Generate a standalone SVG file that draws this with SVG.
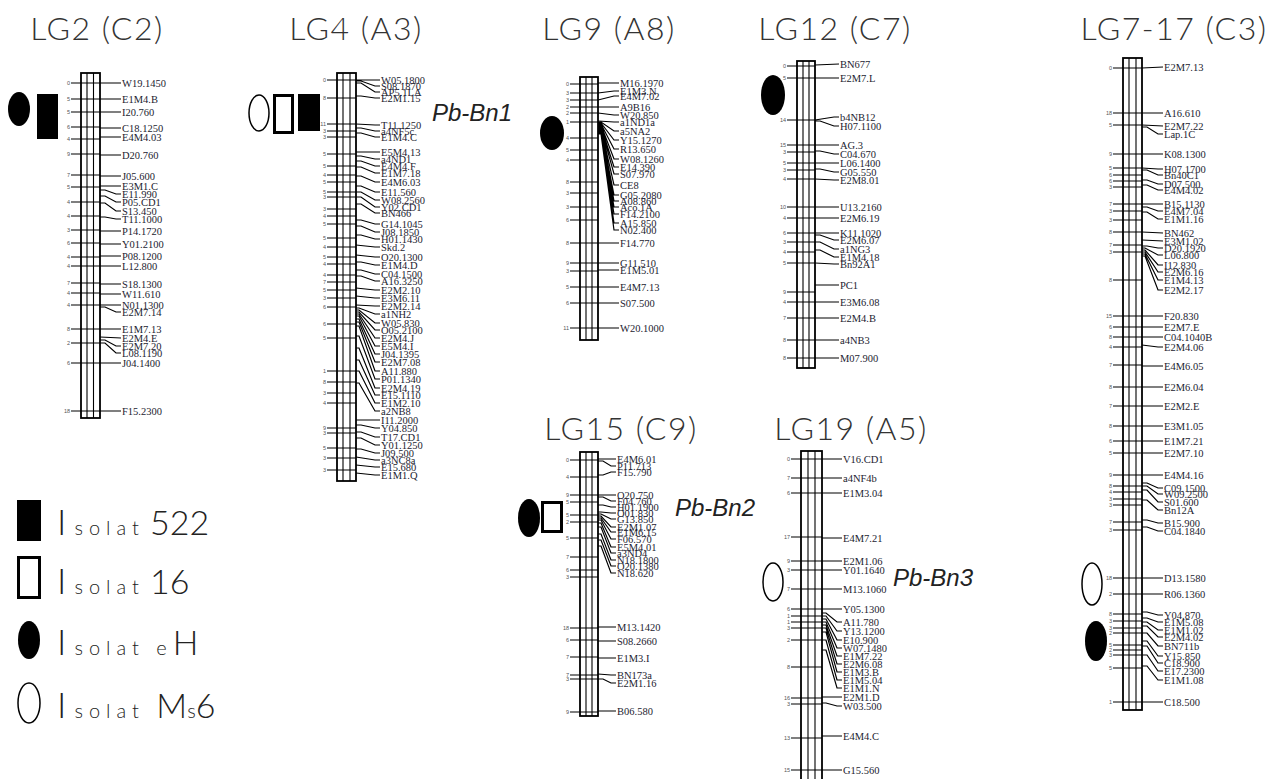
<svg xmlns="http://www.w3.org/2000/svg" width="1275" height="779" viewBox="0 0 1275 779">
<style>
.t{font-family:Lato,"Open Sans","Liberation Sans",sans-serif;font-weight:300;font-size:32px;fill:#333;text-anchor:middle;letter-spacing:1.5px}
.m{font-family:"Liberation Serif","Times New Roman",serif;font-size:10.5px;fill:#1c1c30}
.n{font-family:"Liberation Sans",Arial,sans-serif;font-size:5.5px;fill:#555;text-anchor:end}
.chr{fill:#fff;stroke:#000;stroke-width:1.8}
.in{fill:none;stroke:#000;stroke-width:1.1}
.tk{fill:none;stroke:#000;stroke-width:1.2}
.ln{fill:none;stroke:#000;stroke-width:1.2}
.gene{font-family:"Liberation Sans",Arial,sans-serif;font-style:italic;font-size:24px;fill:#222}
.lg{font-family:Lato,"Open Sans","Liberation Sans",sans-serif;font-weight:300;fill:#222}
.blk{fill:#000}
.hol{fill:#fff;stroke:#000}
</style>
<rect width="1275" height="779" fill="#fff"/>

<!-- LG2 -->
<g id="LG2">
<text class="t" x="97" y="40">LG2 (C2)</text>
<ellipse class="blk" cx="19" cy="109" rx="11" ry="17"/>
<rect class="blk" x="37" y="94" width="21" height="45"/>
<rect class="chr" x="81" y="73" width="19" height="345"/>
<path class="in" d="M87 73V418M93.5 73V418"/>
<path class="tk" d="M71 83H100M71 99H100M71 112H100M71 127H100M71 139H100M71 154H100M71 175H100M71 187H100M71 202H100M71 216H100M71 230H100M71 243H100M71 257H100M71 266H100M71 283H100M71 293H100M71 305H100M71 329H100M71 343H100M71 363H100M71 411H100"/>
<g class="n">
<text x="70" y="85">0</text><text x="70" y="101">5</text><text x="70" y="114">5</text><text x="70" y="129">6</text><text x="70" y="141">4</text><text x="70" y="156">9</text><text x="70" y="177">7</text><text x="70" y="189">5</text><text x="70" y="204">4</text><text x="70" y="218">4</text><text x="70" y="232">3</text><text x="70" y="245">6</text><text x="70" y="259">4</text><text x="70" y="268">4</text><text x="70" y="285">7</text><text x="70" y="295">4</text><text x="70" y="307">4</text><text x="70" y="331">8</text><text x="70" y="345">2</text><text x="70" y="365">6</text><text x="70" y="413">18</text>
</g>
<g class="m">
<text x="122" y="86.5">W19.1450</text><text x="122" y="102.5">E1M4.B</text><text x="122" y="115.5">I20.760</text><text x="122" y="131.5">C18.1250</text><text x="122" y="140.5">E4M4.03</text><text x="122" y="158.5">D20.760</text><text x="122" y="179.5">J05.600</text><text x="122" y="189.5">E3M1.C</text><text x="122" y="197.5">E11.990</text><text x="122" y="205.5">P05.CD1</text><text x="122" y="214.5">S13.450</text><text x="122" y="222.5">T11.1000</text><text x="122" y="234.5">P14.1720</text><text x="122" y="247.5">Y01.2100</text><text x="122" y="259.5">P08.1200</text><text x="122" y="269.5">L12.800</text><text x="122" y="287.5">S18.1300</text><text x="122" y="297.5">W11.610</text><text x="122" y="308.5">N01.1300</text><text x="122" y="315.5">E2M7.14</text><text x="122" y="332.5">E1M7.13</text><text x="122" y="341.5">E2M4.E</text><text x="122" y="349.5">E2M7.20</text><text x="122" y="356.5">L08.1190</text><text x="122" y="366.5">J04.1400</text><text x="122" y="414.5">F15.2300</text>
</g>
</g>

<!-- LG4 -->
<g id="LG4">
<text class="t" x="356" y="40">LG4 (A3)</text>
<ellipse class="hol" cx="259" cy="113" rx="10" ry="18" stroke-width="1.5"/>
<rect class="hol" x="274.5" y="95.5" width="18" height="37" stroke-width="3"/>
<rect class="blk" x="298" y="94" width="22" height="37"/>
<text class="gene" x="432" y="121">Pb-Bn1</text>
<rect class="chr" x="337" y="73" width="19" height="408"/>
<path class="in" d="M343 73V481M350 73V481"/>
<path class="tk" d="M327 80H356M327 98H356M327 124H356M327 131H356M327 137H356M327 154H356M327 166H356M327 175H356M327 182H356M327 192H356M327 197H356M327 209H356M327 216H356M327 224H356M327 238H356M327 247H356M327 257H356M327 264H356M327 275H356M327 282H356M327 290H356M327 298H356M327 307H356M327 324H356M327 338H356M327 371H356M327 382H356M327 393H356M327 403H356M327 428H356M327 433H356M327 448H356M327 458H356M327 470H356"/>
<g class="n">
<text x="326" y="82">0</text><text x="326" y="100">8</text><text x="326" y="126">11</text><text x="326" y="133">3</text><text x="326" y="139">3</text><text x="326" y="156">5</text><text x="326" y="168">5</text><text x="326" y="177">4</text><text x="326" y="184">5</text><text x="326" y="194">5</text><text x="326" y="199">3</text><text x="326" y="211">3</text><text x="326" y="218">4</text><text x="326" y="226">5</text><text x="326" y="240">5</text><text x="326" y="249">4</text><text x="326" y="259">5</text><text x="326" y="266">4</text><text x="326" y="277">4</text><text x="326" y="284">7</text><text x="326" y="292">5</text><text x="326" y="300">3</text><text x="326" y="309">6</text><text x="326" y="326">6</text><text x="326" y="340">5</text><text x="326" y="373">1</text><text x="326" y="384">8</text><text x="326" y="395">3</text><text x="326" y="405">4</text><text x="326" y="430">9</text><text x="326" y="435">3</text><text x="326" y="450">5</text><text x="326" y="460">3</text><text x="326" y="472">3</text>
</g>
<g class="m">
<text x="381" y="83.5">W05.1800</text><text x="381" y="89.5">S08.1870</text><text x="381" y="95.5">AP5.1LA</text><text x="381" y="101.5">E2M1.15</text><text x="381" y="128.5">T11.1250</text><text x="381" y="134.5">a4NF5c</text><text x="381" y="140.5">E1M4.C</text><text x="381" y="155.5">E5M4.13</text><text x="381" y="162.5">a4ND1</text><text x="381" y="169.5">E4M4.F</text><text x="381" y="176.5">E1M7.18</text><text x="381" y="185.5">E4M6.03</text><text x="381" y="195.5">E11.560</text><text x="381" y="203.5">W08.2560</text><text x="381" y="210.5">Y02.CD1</text><text x="381" y="216.5">BN466</text><text x="381" y="227.5">G14.1045</text><text x="381" y="235.5">J08.1850</text><text x="381" y="242.5">H01.1430</text><text x="381" y="250.5">Skd.2</text><text x="381" y="260.5">O20.1300</text><text x="381" y="268.5">E1M4.D</text><text x="381" y="277.5">C04.1500</text><text x="381" y="284.5">A16.3250</text><text x="381" y="293.5">E2M2.10</text><text x="381" y="301.5">E3M6.11</text><text x="381" y="309.5">E2M2.14</text><text x="381" y="317.5">a1NH2</text><text x="381" y="326.5">W05.830</text><text x="381" y="333.5">O05.2100</text><text x="381" y="341.5">E2M4.J</text><text x="381" y="349.5">E5M4.I</text><text x="381" y="357.5">J04.1395</text><text x="381" y="365.5">E2M7.08</text><text x="381" y="374.5">A11.880</text><text x="381" y="382.5">P01.1340</text><text x="381" y="391.5">E2M4.19</text><text x="381" y="398.5">E15.1110</text><text x="381" y="406.5">E1M2.10</text><text x="381" y="414.5">a2NB8</text><text x="381" y="423.5">I11.2000</text><text x="381" y="431.5">Y04.850</text><text x="381" y="440.5">T17.CD1</text><text x="381" y="448.5">Y01.1250</text><text x="381" y="456.5">J09.500</text><text x="381" y="463.5">a3NC8a</text><text x="381" y="470.5">E15.680</text><text x="381" y="478.5">E1M1.Q</text>
</g>
</g>

<!-- LG9 -->
<g id="LG9">
<text class="t" x="609" y="40">LG9 (A8)</text>
<ellipse class="blk" cx="552" cy="133" rx="12" ry="17"/>
<rect class="chr" x="580" y="77" width="18" height="263"/>
<path class="in" d="M586 77V340M592 77V340"/>
<path class="tk" d="M570 84H598M570 93H598M570 100H598M570 107H598M570 113H598M570 122H598M570 138H598M570 150H598M570 160H598M570 182H598M570 193H598M570 207H598M570 220H598M570 243H598M570 263H598M570 271H598M570 287H598M570 303H598M570 328H598"/>
<g class="n">
<text x="569" y="86">0</text><text x="569" y="95">3</text><text x="569" y="102">3</text><text x="569" y="109">2</text><text x="569" y="115">2</text><text x="569" y="124">1</text><text x="569" y="140">4</text><text x="569" y="152">5</text><text x="569" y="162">4</text><text x="569" y="184">8</text><text x="569" y="195">3</text><text x="569" y="209">3</text><text x="569" y="222">6</text><text x="569" y="245">8</text><text x="569" y="265">9</text><text x="569" y="273">3</text><text x="569" y="289">5</text><text x="569" y="305">6</text><text x="569" y="330">11</text>
</g>
<g class="m">
<text x="620" y="86.5">M16.1970</text><text x="620" y="94.5">E1M3.N</text><text x="620" y="99.5">E4M7.02</text><text x="620" y="110.5">A9B16</text><text x="620" y="118.5">W20.850</text><text x="620" y="125.5">a1ND1a</text><text x="620" y="134.5">a5NA2</text><text x="620" y="143.5">Y15.1270</text><text x="620" y="152.5">R13.650</text><text x="620" y="162.5">W08.1260</text><text x="620" y="170.5">E14.390</text><text x="620" y="177.5">S07.970</text><text x="620" y="188.5">CE8</text><text x="620" y="198.5">G05.2080</text><text x="620" y="204.5">A08.860</text><text x="620" y="210.5">Aco.1A</text><text x="620" y="217.5">F14.2100</text><text x="620" y="226.5">A15.850</text><text x="620" y="233.5">N02.400</text><text x="620" y="246.5">F14.770</text><text x="620" y="266.5">G11.510</text><text x="620" y="273.5">E1M5.01</text><text x="620" y="290.5">E4M7.13</text><text x="620" y="306.5">S07.500</text><text x="620" y="331.5">W20.1000</text>
</g>
</g>

<!-- LG12 -->
<g id="LG12">
<text class="t" x="835" y="40">LG12 (C7)</text>
<ellipse class="blk" cx="773" cy="95" rx="12" ry="20"/>
<rect class="chr" x="797" y="61" width="18" height="307"/>
<path class="in" d="M803 61V368M809 61V368"/>
<path class="tk" d="M787 66H815M787 78H815M787 120H815M787 145H815M787 152H815M787 163H815M787 170H815M787 179H815M787 207H815M787 218H815M787 233H815M787 242H815M787 252H815M787 263H815M787 292H815M787 302H815M787 318H815M787 340H815M787 358H815"/>
<g class="n">
<text x="786" y="68">0</text><text x="786" y="80">5</text><text x="786" y="122">14</text><text x="786" y="147">15</text><text x="786" y="154">3</text><text x="786" y="165">5</text><text x="786" y="172">3</text><text x="786" y="181">4</text><text x="786" y="209">10</text><text x="786" y="220">4</text><text x="786" y="235">6</text><text x="786" y="244">3</text><text x="786" y="254">4</text><text x="786" y="265">5</text><text x="786" y="294">9</text><text x="786" y="304">4</text><text x="786" y="320">7</text><text x="786" y="342">8</text><text x="786" y="360">8</text>
</g>
<g class="m">
<text x="840" y="67.5">BN677</text><text x="840" y="81.5">E2M7.L</text><text x="840" y="120.5">b4NB12</text><text x="840" y="129.5">H07.1100</text><text x="840" y="148.5">AG.3</text><text x="840" y="157.5">C04.670</text><text x="840" y="166.5">L06.1400</text><text x="840" y="175.5">G05.550</text><text x="840" y="183.5">E2M8.01</text><text x="840" y="210.5">U13.2160</text><text x="840" y="221.5">E2M6.19</text><text x="840" y="236.5">K11.1020</text><text x="840" y="243.5">E2M6.07</text><text x="840" y="252.5">a1NG3</text><text x="840" y="260.5">E1M4.18</text><text x="840" y="267.5">Bn92A1</text><text x="840" y="288.5">PC1</text><text x="840" y="305.5">E3M6.08</text><text x="840" y="321.5">E2M4.B</text><text x="840" y="343.5">a4NB3</text><text x="840" y="361.5">M07.900</text>
</g>
</g>

<!-- LG15 -->
<g id="LG15">
<text class="t" x="621" y="440">LG15 (C9)</text>
<ellipse class="blk" cx="529" cy="518" rx="11" ry="19"/>
<rect class="hol" x="542.5" y="502.5" width="19" height="29" stroke-width="3"/>
<text class="gene" x="675" y="516">Pb-Bn2</text>
<rect class="chr" x="580" y="452" width="18" height="264"/>
<path class="in" d="M586 452V716M592 452V716"/>
<path class="tk" d="M570 460H598M570 477H598M570 495H598M570 502H598M570 515H598M570 522H598M570 538H598M570 557H598M570 570H598M570 577H598M570 628H598M570 640H598M570 657H598M570 675H598M570 679H598M570 712H598"/>
<g class="n">
<text x="569" y="462">0</text><text x="569" y="479">4</text><text x="569" y="497">9</text><text x="569" y="504">5</text><text x="569" y="517">5</text><text x="569" y="524">2</text><text x="569" y="540">5</text><text x="569" y="559">7</text><text x="569" y="572">6</text><text x="569" y="579">3</text><text x="569" y="630">18</text><text x="569" y="642">6</text><text x="569" y="659">7</text><text x="569" y="677">7</text><text x="569" y="681">3</text><text x="569" y="714">9</text>
</g>
<g class="m">
<text x="617" y="462.5">E4M6.01</text><text x="617" y="469.5">P11.713</text><text x="617" y="475.5">F15.790</text><text x="617" y="498.5">O20.750</text><text x="617" y="504.5">F04.760</text><text x="617" y="510.5">H01.1900</text><text x="617" y="516.5">O01.830</text><text x="617" y="522.5">G13.850</text><text x="617" y="530.5">E2M1.07</text><text x="617" y="535.5">E1M6.15</text><text x="617" y="542.5">F06.570</text><text x="617" y="550.5">E5M4.01</text><text x="617" y="556.5">a3ND4</text><text x="617" y="563.5">N18.1800</text><text x="617" y="569.5">O20.1380</text><text x="617" y="576.5">N18.620</text><text x="617" y="630.5">M13.1420</text><text x="617" y="644.5">S08.2660</text><text x="617" y="661.5">E1M3.I</text><text x="617" y="678.5">BN173a</text><text x="617" y="686.5">E2M1.16</text><text x="617" y="714.5">B06.580</text>
</g>
</g>

<!-- LG19 -->
<g id="LG19">
<text class="t" x="851" y="440">LG19 (A5)</text>
<ellipse class="hol" cx="773" cy="582" rx="10" ry="19" stroke-width="1.5"/>
<text class="gene" x="893" y="586">Pb-Bn3</text>
<rect class="chr" x="801" y="451" width="21" height="340"/>
<path class="in" d="M808 451V791M815 451V791"/>
<path class="tk" d="M791 459H822M791 478H822M791 493H822M791 537H822M791 561H822M791 570H822M791 589H822M791 609H822M791 616H822M791 622H822M791 628H822M791 640H822M791 667H822M791 698H822M791 704H822M791 738H822M791 770H822"/>
<g class="n">
<text x="790" y="461">0</text><text x="790" y="480">7</text><text x="790" y="495">6</text><text x="790" y="539">17</text><text x="790" y="563">9</text><text x="790" y="572">3</text><text x="790" y="591">7</text><text x="790" y="611">6</text><text x="790" y="618">1</text><text x="790" y="624">1</text><text x="790" y="630">3</text><text x="790" y="642">2</text><text x="790" y="669">8</text><text x="790" y="700">16</text><text x="790" y="706">3</text><text x="790" y="740">13</text><text x="790" y="772">15</text>
</g>
<g class="m">
<text x="843" y="462.5">V16.CD1</text><text x="843" y="481.5">a4NF4b</text><text x="843" y="496.5">E1M3.04</text><text x="843" y="541.5">E4M7.21</text><text x="843" y="564.5">E2M1.06</text><text x="843" y="573.5">Y01.1640</text><text x="843" y="592.5">M13.1060</text><text x="843" y="612.5">Y05.1300</text><text x="843" y="625.5">A11.780</text><text x="843" y="634.5">Y13.1200</text><text x="843" y="643.5">E10.900</text><text x="843" y="651.5">W07.1480</text><text x="843" y="659.5">E1M7.22</text><text x="843" y="667.5">E2M6.08</text><text x="843" y="675.5">E1M3.B</text><text x="843" y="683.5">E1M5.04</text><text x="843" y="691.5">E1M1.N</text><text x="843" y="700.5">E2M1.D</text><text x="843" y="709.5">W03.500</text><text x="843" y="739.5">E4M4.C</text><text x="843" y="773.5">G15.560</text>
</g>
</g>

<!-- LG7-17 -->
<g id="LG7-17">
<text class="t" x="1174" y="40">LG7-17 (C3)</text>
<ellipse class="hol" cx="1092" cy="584" rx="10" ry="21" stroke-width="1.5"/>
<ellipse class="blk" cx="1096" cy="641" rx="11" ry="20"/>
<rect class="chr" x="1123" y="58" width="19" height="652"/>
<path class="in" d="M1129 58V710M1136 58V710"/>
<path class="tk" d="M1113 68H1142M1113 113H1142M1113 125H1142M1113 154H1142M1113 168H1142M1113 175H1142M1113 181H1142M1113 187H1142M1113 204H1142M1113 211H1142M1113 220H1142M1113 232H1142M1113 245H1142M1113 252H1142M1113 280H1142M1113 316H1142M1113 327H1142M1113 337H1142M1113 347H1142M1113 365H1142M1113 387H1142M1113 406H1142M1113 426H1142M1113 441H1142M1113 453H1142M1113 475H1142M1113 486H1142M1113 492H1142M1113 499H1142M1113 505H1142M1113 522H1142M1113 530H1142M1113 578H1142M1113 594H1142M1113 614H1142M1113 621H1142M1113 628H1142M1113 633H1142M1113 645H1142M1113 650H1142M1113 655H1142M1113 668H1142M1113 702H1142"/>
<g class="n">
<text x="1112" y="70">0</text><text x="1112" y="115">18</text><text x="1112" y="127">5</text><text x="1112" y="156">9</text><text x="1112" y="170">5</text><text x="1112" y="177">6</text><text x="1112" y="183">6</text><text x="1112" y="189">3</text><text x="1112" y="206">7</text><text x="1112" y="213">3</text><text x="1112" y="222">3</text><text x="1112" y="234">8</text><text x="1112" y="247">7</text><text x="1112" y="254">3</text><text x="1112" y="282">8</text><text x="1112" y="318">15</text><text x="1112" y="329">6</text><text x="1112" y="339">8</text><text x="1112" y="349">4</text><text x="1112" y="367">7</text><text x="1112" y="389">8</text><text x="1112" y="408">7</text><text x="1112" y="428">8</text><text x="1112" y="443">6</text><text x="1112" y="455">5</text><text x="1112" y="477">9</text><text x="1112" y="488">8</text><text x="1112" y="494">4</text><text x="1112" y="501">3</text><text x="1112" y="507">3</text><text x="1112" y="524">7</text><text x="1112" y="532">3</text><text x="1112" y="580">18</text><text x="1112" y="596">2</text><text x="1112" y="616">8</text><text x="1112" y="623">3</text><text x="1112" y="630">3</text><text x="1112" y="635">2</text><text x="1112" y="647">5</text><text x="1112" y="652">2</text><text x="1112" y="657">3</text><text x="1112" y="670">5</text><text x="1112" y="704">1</text>
</g>
<g class="m">
<text x="1164" y="70.5">E2M7.13</text><text x="1164" y="116.5">A16.610</text><text x="1164" y="129.5">E2M7.22</text><text x="1164" y="137.5">Lap.1C</text><text x="1164" y="157.5">K08.1300</text><text x="1164" y="172.5">H07.1700</text><text x="1164" y="178.5">Bn40C1</text><text x="1164" y="187.5">D07.500</text><text x="1164" y="193.5">E4M4.02</text><text x="1164" y="207.5">B15.1130</text><text x="1164" y="214.5">E4M7.04</text><text x="1164" y="222.5">E1M1.16</text><text x="1164" y="236.5">BN462</text><text x="1164" y="244.5">E3M1.02</text><text x="1164" y="251.5">D20.1920</text><text x="1164" y="258.5">L06.800</text><text x="1164" y="268.5">I12.830</text><text x="1164" y="275.5">E2M6.16</text><text x="1164" y="283.5">E1M4.13</text><text x="1164" y="293.5">E2M2.17</text><text x="1164" y="319.5">F20.830</text><text x="1164" y="330.5">E2M7.E</text><text x="1164" y="340.5">C04.1040B</text><text x="1164" y="350.5">E2M4.06</text><text x="1164" y="369.5">E4M6.05</text><text x="1164" y="390.5">E2M6.04</text><text x="1164" y="409.5">E2M2.E</text><text x="1164" y="429.5">E3M1.05</text><text x="1164" y="444.5">E1M7.21</text><text x="1164" y="456.5">E2M7.10</text><text x="1164" y="478.5">E4M4.16</text><text x="1164" y="491.5">C09.1500</text><text x="1164" y="497.5">W09.2500</text><text x="1164" y="505.5">S01.600</text><text x="1164" y="513.5">Bn12A</text><text x="1164" y="526.5">B15.900</text><text x="1164" y="534.5">C04.1840</text><text x="1164" y="581.5">D13.1580</text><text x="1164" y="597.5">R06.1360</text><text x="1164" y="618.5">Y04.870</text><text x="1164" y="625.5">E1M5.08</text><text x="1164" y="633.5">E1M1.02</text><text x="1164" y="640.5">E2M4.02</text><text x="1164" y="649.5">BN711b</text><text x="1164" y="659.5">Y15.850</text><text x="1164" y="666.5">C18.900</text><text x="1164" y="674.5">E17.2300</text><text x="1164" y="683.5">E1M1.08</text><text x="1164" y="705.5">C18.500</text>
</g>
</g>

<!-- connectors -->
<g id="connectors" class="ln">
<path d="M100 83H121M100 99H121M100 112H121M100 128H121M100 137H121M100 155H121M100 176H121M100 186H121M100 190h5L116 194H121M100 196h5L116 202H121M100 203h5L116 211H121M100 217h5L116 219H121M100 231H121M100 244H121M100 256H121M100 266H121M100 284H121M100 294H121M100 305H121M100 307h5L116 312H121M100 329H121M100 337L121 338M100 340h5L116 346H121M100 343h5L116 353H121M100 363H121M100 411H121"/>
<path d="M356 80H380M356 81h5L375 86H380M356 83h5L375 92H380M356 96h5L375 98H380M356 124L375 125H380M356 128h5L375 131H380M356 133h5L375 137H380M356 152H380M356 156h5L375 159H380M356 161h5L375 166H380M356 167h5L375 173H380M356 176h5L375 182H380M356 186h5L375 192H380M356 192h5L375 200H380M356 197h5L375 207H380M356 204h5L375 213H380M356 220h5L375 224H380M356 226h5L375 232H380M356 235h5L375 239H380M356 245L375 247H380M356 255L375 257H380M356 262h5L375 265H380M356 270h5L375 274H380M356 276h5L375 281H380M356 288L375 290H380M356 296L375 298H380M356 305L375 306H380M356 308h3L375 314H380M356 310h3L375 323H380M356 312h3L375 330H380M356 314h3L375 338H380M356 316h3L375 346H380M356 319h3L375 354H380M356 322h3L375 362H380M356 326h3L375 371H380M356 336h3L375 379H380M356 348h3L375 388H380M356 360h3L375 395H380M356 371h3L375 403H380M356 383h3L375 411H380M356 420H380M356 425h5L375 428H380M356 432h5L375 437H380M356 438h5L375 445H380M356 449h5L375 453H380M356 457L375 460H380M356 465L375 467H380M356 473L375 475H380"/>
<path d="M598 83H619M598 93L614 91H619M598 100L614 96H619M598 107H619M598 113L614 115H619M598 121L614 122H619M598 122h3L614 131H619M598 123h3L614 140H619M598 124h3L614 149H619M598 125h3L614 159H619M598 126h3L614 167H619M598 127h3L614 174H619M598 128h3L614 185H619M598 129h3L614 195H619M598 130h3L614 201H619M598 131h3L614 207H619M598 132h3L614 214H619M598 133h3L614 223H619M598 134h3L614 230H619M598 243H619M598 263H619M598 270H619M598 287H619M598 303H619M598 328H619"/>
<path d="M815 65L839 64M815 78H839M815 120L834 117H839M815 121h5L834 126H839M815 145H839M815 151h5L834 154H839M815 163H839M815 169h5L834 172H839M815 179L834 180H839M815 207H839M815 218H839M815 233H839M815 235h5L834 240H839M815 242h5L834 249H839M815 250h5L834 257H839M815 263L834 264H839M815 285H839M815 302H839M815 318H839M815 340H839M815 358H839"/>
<path d="M598 459H616M598 461h5L611 466H616M598 475h5L611 472H616M598 495H616M598 497h5L611 501H616M598 505h5L611 507H616M598 512h3L611 513H616M598 514h3L611 519H616M598 516h3L611 527H616M598 518h3L611 532H616M598 520h3L611 539H616M598 523h3L611 547H616M598 527h3L611 553H616M598 534h3L611 560H616M598 540h3L611 566H616M598 546h3L611 573H616M598 627H616M598 641H616M598 658H616M598 674L611 675H616M598 679h5L611 683H616M598 711H616"/>
<path d="M822 459H842M822 478H842M822 493H842M822 538H842M822 561H842M822 570H842M822 589H842M822 609H842M822 613h4L837 622H842M822 616h4L837 631H842M822 619h4L837 640H842M822 622h4L837 648H842M822 625h4L837 656H842M822 628h4L837 664H842M822 632h4L837 672H842M822 640h4L837 680H842M822 650h4L837 688H842M822 697H842M822 703h4L837 706H842M822 736H842M822 770H842"/>
<path d="M1142 68L1163 67M1142 113H1163M1142 125L1163 126M1142 127h5L1158 134H1163M1142 154H1163M1142 168L1158 169H1163M1142 170h5L1158 175H1163M1142 180h5L1158 184H1163M1142 185h5L1158 190H1163M1142 204H1163M1142 207h5L1158 211H1163M1142 212h5L1158 219H1163M1142 232L1163 233M1142 240L1163 241M1142 246h5L1158 248H1163M1142 248h3L1158 255H1163M1142 250h3L1158 265H1163M1142 252h3L1158 272H1163M1142 254h3L1158 280H1163M1142 256h3L1158 290H1163M1142 316H1163M1142 327H1163M1142 337H1163M1142 345L1158 347H1163M1142 366H1163M1142 387H1163M1142 406H1163M1142 426H1163M1142 441H1163M1142 453H1163M1142 475H1163M1142 483h5L1158 488H1163M1142 486h5L1158 494H1163M1142 490h5L1158 502H1163M1142 500h5L1158 510H1163M1142 520h5L1158 523H1163M1142 527h5L1158 531H1163M1142 578H1163M1142 594H1163M1142 612h5L1158 615H1163M1142 618h5L1158 622H1163M1142 622h5L1158 630H1163M1142 626h5L1158 637H1163M1142 633h5L1158 646H1163M1142 641h5L1158 656H1163M1142 646h5L1158 663H1163M1142 655h5L1158 671H1163M1142 666h5L1158 680H1163M1142 702H1163"/>
</g>

<!-- legend -->
<g id="legend">
<rect class="blk" x="17" y="500" width="24" height="41"/>
<text class="lg" x="57" y="535"><tspan font-size="36">I</tspan><tspan font-size="20" letter-spacing="6" dx="8">solat</tspan><tspan font-size="34" dx="-4"> 522</tspan></text>
<rect class="hol" x="18.5" y="557.5" width="21" height="40" stroke-width="3"/>
<text class="lg" x="57" y="594"><tspan font-size="36">I</tspan><tspan font-size="20" letter-spacing="6" dx="8">solat</tspan><tspan font-size="34" dx="-4"> 16</tspan></text>
<ellipse class="blk" cx="29" cy="640" rx="11" ry="19"/>
<text class="lg" x="57" y="655"><tspan font-size="36">I</tspan><tspan font-size="20" letter-spacing="6" dx="8">solat e</tspan><tspan font-size="34">H</tspan></text>
<ellipse class="hol" cx="29" cy="703" rx="11" ry="20" stroke-width="1.5"/>
<text class="lg" x="57" y="718"><tspan font-size="36">I</tspan><tspan font-size="20" letter-spacing="6" dx="8">solat </tspan><tspan font-size="34">M</tspan><tspan font-size="20">s</tspan><tspan font-size="34">6</tspan></text>
</g>
</svg>
